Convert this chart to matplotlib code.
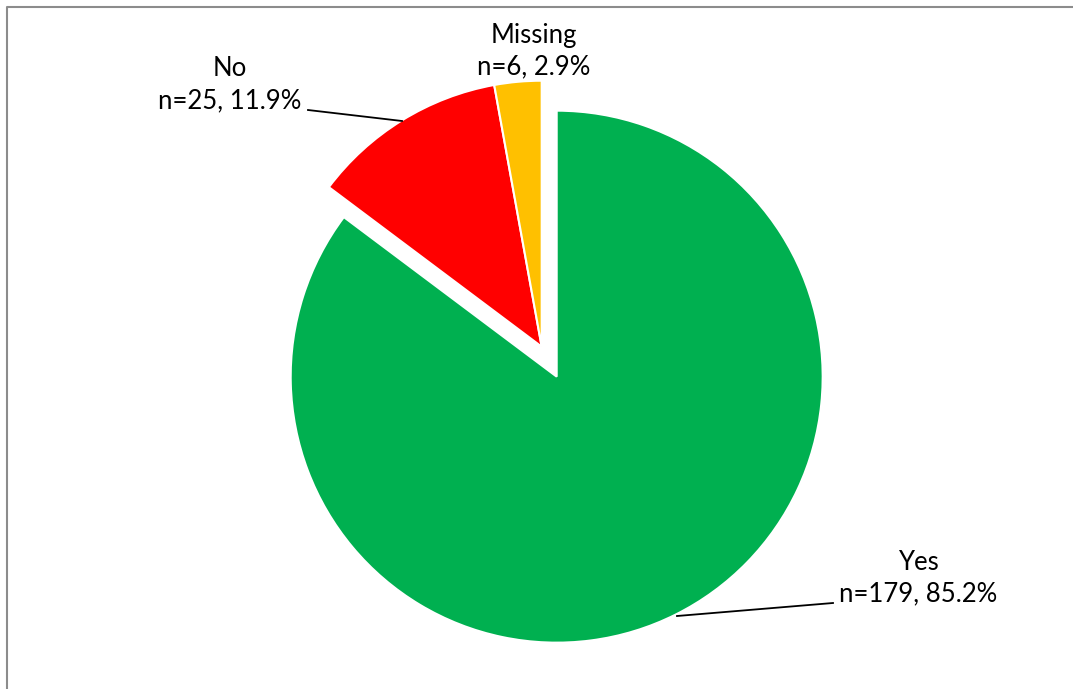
import numpy as np
import matplotlib.pyplot as plt
from matplotlib.lines import Line2D

plt.switch_backend('Agg')

categories = ['Yes', 'No', 'Missing']
counts = [179, 25, 6]
percents = [85.2, 11.9, 2.9]
colors = ['#00B050', '#FF0000', '#FFC000']

W, H = 1073, 689
fig = plt.figure(figsize=(W / 100, H / 100), dpi=100)
ax = fig.add_axes([0, 0, 1, 1])

# pixel coords of the pie centre (y flipped for matplotlib)
cx, cy = 541.7, H - 346.7
r = 266

ax.pie(counts, colors=colors, startangle=90, counterclock=False,
       center=(cx, cy), radius=r, explode=[33.5, 0, 0],
       wedgeprops=dict(edgecolor='white', linewidth=1.5))

ax.set_xlim(0, W)
ax.set_ylim(0, H)
ax.set_aspect('auto')
ax.axis('off')

font = ['Lato', 'DejaVu Sans']
label_pos = [(918, 578), (230, 85), (534, 51)]
for name, n, p, (x, y) in zip(categories, counts, percents, label_pos):
    ax.text(x, H - y, f'{name}\nn={n}, {p}%', ha='center', va='center',
            fontsize=18.5, family=font, linespacing=1.35, color='#000000')

# leader lines
ax.plot([677, 833], [H - 616, H - 603], color='black', lw=1.3)
ax.plot([308, 402], [H - 110, H - 121], color='black', lw=1.3)

# chart area border (top and left edges visible)
fig.add_artist(Line2D([7 / W, 7 / W, 1], [0, 1 - 7 / H, 1 - 7 / H],
                      transform=fig.transFigure, color='#8c8c8c', lw=1.5))

plt.savefig('out.png', dpi=100)
plt.close()
